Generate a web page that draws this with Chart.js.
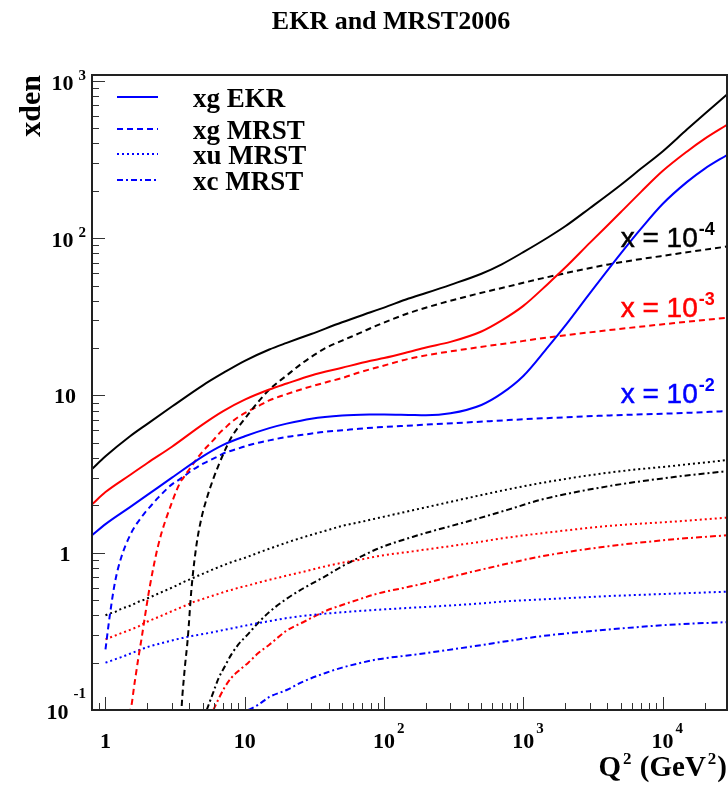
<!DOCTYPE html>
<html>
<head>
<meta charset="utf-8">
<script src="https://cdn.jsdelivr.net/npm/chart.js@4.4.1/dist/chart.umd.min.js"></script>
<style>
  html, body { margin: 0; padding: 0; background: #fff; }
  #wrap { width: 728px; height: 789px; position: relative; }
</style>
</head>
<body>
<div id="wrap"><canvas id="chart"></canvas></div>
<script>
const ekrQ2 = [0.8, 1, 1.5, 2, 3, 5, 7, 10, 15, 20, 30, 50, 80, 100, 150, 200, 300, 500, 700,
  1000, 1500, 2000, 3000, 5000, 7000, 10000, 15000, 20000, 29000]
const xgEkr4 = [3.4, 4.1, 5.5, 6.6, 8.5, 11.6, 13.9, 16.6, 19.6, 21.6, 24.6, 29.2, 33.8, 36.2, 41.3, 44.8, 50.5, 59.4, 68.2,
  81.5, 101, 119, 155, 218, 277, 356, 492, 615, 820]
const xgEkr3 = [2.03, 2.43, 3.12, 3.72, 4.72, 6.55, 7.95, 9.4, 10.9, 11.9, 13.4, 15.0, 16.6, 17.3, 18.9, 20.2, 21.9, 25.5, 30.0,
  37.1, 51.2, 65.0, 93.3, 146, 197, 267, 356, 428, 526]
const xgEkr2 = [1.29, 1.52, 1.95, 2.33, 3.0, 4.1, 4.85, 5.5, 6.2, 6.62, 7.12, 7.45, 7.56, 7.57, 7.52, 7.48, 7.7, 8.7, 10.3,
  13.3, 20.3, 27.8, 44.6, 79.8, 115, 165, 228, 276, 338]

// Q^2 points for the MRST2006 curves (values at the frame floor are drawn at 0.1)
const mrstQ2 = [1, 1.07, 1.17, 1.3, 1.5, 1.62, 1.72, 1.82, 1.92, 2.08, 2.4, 3, 3.5, 3.56, 3.72, 3.89, 4.15, 4.5, 4.9, 5.33,
  5.95, 6.5, 7.2, 8, 9, 10.6, 12.5, 15, 20, 26, 38, 50, 66, 90, 160, 450, 780, 1360, 4100, 12400, 29000]
const xgMrst4 = [0.1, 0.1, 0.1, 0.1, 0.1, 0.1, 0.1, 0.1, 0.1, 0.1, 0.1, 0.1, 0.1, 0.122, 0.19, 0.28, 0.6, 1.12, 1.68, 2.21,
  2.96, 3.62, 4.47, 5.4, 6.3, 7.6, 9.1, 10.9, 13.4, 16.1, 20.0, 22.3, 24.8, 28.0, 34.0, 43.9, 49.3, 55.5, 68.1, 79.4, 88.5]
const xgMrst3 = [0.1, 0.1, 0.1, 0.1, 0.1, 0.15, 0.213, 0.289, 0.394, 0.61, 1.13, 2.09, 2.88, 2.93, 3.1, 3.28, 3.55, 3.93, 4.32, 4.7,
  5.2, 5.7, 6.2, 6.75, 7.3, 7.95, 8.55, 9.3, 10.2, 11.0, 12.1, 12.9, 14.0, 15.1, 17.3, 20.1, 21.5, 23.1, 26.0, 28.9, 31.2]
const xgMrst2 = [0.243, 0.39, 0.65, 0.94, 1.29, 1.46, 1.58, 1.69, 1.80, 1.95, 2.25, 2.72, 2.98, 3.02, 3.1, 3.19, 3.33, 3.48, 3.65, 3.78,
  3.97, 4.12, 4.32, 4.45, 4.6, 4.82, 5.01, 5.18, 5.45, 5.62, 5.88, 6.0, 6.14, 6.27, 6.45, 6.78, 6.97, 7.15, 7.46, 7.7, 7.95]
const xuMrst4 = [0.40, 0.41, 0.42, 0.44, 0.46, 0.475, 0.487, 0.497, 0.505, 0.52, 0.55, 0.6, 0.64, 0.645, 0.657, 0.668, 0.684, 0.707, 0.73, 0.753,
  0.785, 0.81, 0.84, 0.87, 0.9, 0.945, 1.0, 1.06, 1.16, 1.25, 1.38, 1.48, 1.56, 1.66, 1.86, 2.28, 2.53, 2.78, 3.23, 3.58, 3.88]
const xuMrst3 = [0.281, 0.288, 0.297, 0.308, 0.323, 0.332, 0.339, 0.35, 0.359, 0.37, 0.39, 0.425, 0.45, 0.453, 0.46, 0.468, 0.481, 0.493, 0.505, 0.518,
  0.535, 0.548, 0.565, 0.58, 0.598, 0.62, 0.645, 0.672, 0.715, 0.755, 0.82, 0.863, 0.9, 0.95, 1.02, 1.16, 1.25, 1.33, 1.48, 1.58, 1.67]
const xuMrst2 = [0.2, 0.204, 0.21, 0.217, 0.228, 0.234, 0.239, 0.244, 0.248, 0.254, 0.263, 0.277, 0.286, 0.287, 0.29, 0.292, 0.295, 0.299, 0.303, 0.307,
  0.313, 0.318, 0.324, 0.33, 0.337, 0.347, 0.357, 0.367, 0.384, 0.396, 0.41, 0.418, 0.426, 0.434, 0.447, 0.473, 0.492, 0.505, 0.53, 0.55, 0.565]
const xcMrst4 = [null, null, null, null, null, null, null, null, null, null, null, null, null, null, null, null, null, null, null, 0.1,
  0.13, 0.16, 0.19, 0.225, 0.261, 0.305, 0.359, 0.42, 0.51, 0.59, 0.71, 0.82, 0.93, 1.06, 1.26, 1.63, 1.88, 2.18, 2.65, 3.04, 3.30]
const xcMrst3 = [null, null, null, null, null, null, null, null, null, null, null, null, null, null, null, null, null, null, null, null,
  0.1, 0.118, 0.14, 0.16, 0.177, 0.2, 0.23, 0.26, 0.32, 0.36, 0.426, 0.465, 0.505, 0.55, 0.614, 0.764, 0.855, 0.95, 1.10, 1.22, 1.29]
const xcMrst2 = [null, null, null, null, null, null, null, null, null, null, null, null, null, null, null, null, null, null, null, null,
  null, null, null, null, null, 0.1, 0.108, 0.121, 0.134, 0.151, 0.172, 0.186, 0.198, 0.21, 0.224, 0.255, 0.275, 0.295, 0.325, 0.35, 0.362]

// axis labels
const xTickValues = [1, 10, 100, 1000, 10000]
const xTickBase = ['1', '10', '10', '10', '10']
const xTickExp = ['', '', '2', '3', '4']
const yTickValues = [0.1, 1, 10, 100, 1000]
const yTickBase = ['10', '1', '10', '10', '10']
const yTickExp = ['-1', '', '', '2', '3']

const legendLabels = ['xg EKR', 'xg MRST', 'xu MRST', 'xc MRST']
const xValueExp = ['-4', '-3', '-2']
const colors = ['#000000', '#ff0000', '#0000ff']

const SERIF = '"Liberation Serif", "Times New Roman", serif'
const SANS = '"Liberation Sans", Arial, sans-serif'
const dashes = [[], [6, 4], [2, 3], [6, 3, 2, 3]]

const pts = (qs, vs) => qs.map((q, i) => ({x: q, y: vs[i]}))
const line = (data, color, dash) => ({
  data,
  borderColor: color,
  borderWidth: 2,
  borderDash: dash,
  pointRadius: 0,
  fill: false,
  cubicInterpolationMode: 'monotone'
})

const datasets = [
  line(pts(ekrQ2, xgEkr4), colors[0], dashes[0]),
  line(pts(ekrQ2, xgEkr3), colors[1], dashes[0]),
  line(pts(ekrQ2, xgEkr2), colors[2], dashes[0]),
  line(pts(mrstQ2, xgMrst4), colors[0], dashes[1]),
  line(pts(mrstQ2, xgMrst3), colors[1], dashes[1]),
  line(pts(mrstQ2, xgMrst2), colors[2], dashes[1]),
  line(pts(mrstQ2, xuMrst4), colors[0], dashes[2]),
  line(pts(mrstQ2, xuMrst3), colors[1], dashes[2]),
  line(pts(mrstQ2, xuMrst2), colors[2], dashes[2]),
  line(pts(mrstQ2, xcMrst4), colors[0], dashes[3]),
  line(pts(mrstQ2, xcMrst3), colors[1], dashes[3]),
  line(pts(mrstQ2, xcMrst2), colors[2], dashes[3])
]

// ROOT-like frame, inward ticks, labels, legend and titles
const rootStyle = {
  id: 'rootStyle',
  afterDraw(chart) {
    const {ctx, chartArea: a, scales: {x, y}} = chart
    ctx.save()

    // ticks
    ctx.strokeStyle = '#333'
    ctx.lineWidth = 1
    for (let e = -1; e <= 4; e++) {
      for (let m = 1; m <= 9; m++) {
        const v = m * Math.pow(10, e)
        const len = m === 1 ? 13 : 7
        if (v > x.min && v < x.max) {
          const px = Math.round(x.getPixelForValue(v)) + 0.5
          ctx.beginPath(); ctx.moveTo(px, a.bottom); ctx.lineTo(px, a.bottom - len); ctx.stroke()
        }
        if (v >= y.min && v < y.max) {
          const py = Math.round(y.getPixelForValue(v)) + 0.5
          ctx.beginPath(); ctx.moveTo(a.left, py); ctx.lineTo(a.left + len, py); ctx.stroke()
        }
      }
    }

    // frame
    ctx.strokeStyle = '#222'
    ctx.lineWidth = 2
    ctx.strokeRect(a.left, a.top, a.right - a.left, a.bottom - a.top)

    ctx.fillStyle = '#000'
    ctx.textBaseline = 'alphabetic'

    // x tick labels
    xTickValues.forEach((v, i) => {
      const px = x.getPixelForValue(v)
      ctx.font = `bold 22px ${SERIF}`
      ctx.textAlign = 'center'
      ctx.fillText(xTickBase[i], px, a.bottom + 38)
      if (xTickExp[i]) {
        const w = ctx.measureText(xTickBase[i]).width
        ctx.font = `bold 15px ${SERIF}`
        ctx.textAlign = 'left'
        ctx.fillText(xTickExp[i], px + w / 2 + 2, a.bottom + 23)
      }
    })

    // y tick labels
    yTickValues.forEach((v, i) => {
      const py = y.getPixelForValue(v)
      const right = a.left - 6
      if (yTickExp[i]) {
        ctx.font = `bold 15px ${SERIF}`
        const ew = ctx.measureText(yTickExp[i]).width
        ctx.textAlign = 'left'
        const lift = yTickExp[i].startsWith('-') ? 12 : 1
        ctx.fillText(yTickExp[i], right - ew, py - lift)
        ctx.font = `bold 22px ${SERIF}`
        ctx.textAlign = 'right'
        ctx.fillText(yTickBase[i], right - ew - 5, py + 9)
      } else {
        ctx.font = `bold 22px ${SERIF}`
        ctx.textAlign = 'center'
        ctx.fillText(yTickBase[i], a.left - 27, py + 8)
      }
    })

    // title
    ctx.font = `bold 26px ${SERIF}`
    ctx.textAlign = 'center'
    ctx.fillText('EKR and MRST2006', 391, 29)

    // y title
    ctx.save()
    ctx.translate(40, a.top)
    ctx.rotate(-Math.PI / 2)
    ctx.font = `bold 30px ${SERIF}`
    ctx.textAlign = 'right'
    ctx.fillText('xden', 0, 0)
    ctx.restore()

    // x title: Q^2 (GeV^2), right aligned to the frame
    const parts = [['Q', 29, 0], ['2', 17, 12], [' (GeV', 29, 0], ['2', 17, 12], [')', 29, 0]]
    let total = 0
    parts.forEach(p => { ctx.font = `bold ${p[1]}px ${SERIF}`; total += ctx.measureText(p[0]).width + (p[2] ? 3 : 0) })
    let cx = a.right - total
    ctx.textAlign = 'left'
    parts.forEach(p => {
      ctx.font = `bold ${p[1]}px ${SERIF}`
      if (p[2]) cx += 2
      ctx.fillText(p[0], cx, 776 - p[2])
      cx += ctx.measureText(p[0]).width + (p[2] ? 1 : 0)
    })

    // legend
    const legY = [97, 129, 154, 180]
    legendLabels.forEach((label, i) => {
      ctx.strokeStyle = colors[2]
      ctx.lineWidth = 2
      ctx.setLineDash(dashes[i])
      ctx.beginPath(); ctx.moveTo(117, legY[i]); ctx.lineTo(158, legY[i]); ctx.stroke()
      ctx.setLineDash([])
      ctx.font = `bold 27px ${SERIF}`
      ctx.textAlign = 'left'
      ctx.fillStyle = '#000'
      ctx.fillText(label, 193, legY[i] + 10)
    })

    // x = 10^-n labels
    const labY = [247, 316.5, 403]
    const lx = x.getPixelForValue(5000)
    xValueExp.forEach((e, i) => {
      ctx.fillStyle = colors[i]
      ctx.strokeStyle = colors[i]
      ctx.lineWidth = 0.5
      ctx.font = `28px ${SANS}`
      ctx.textAlign = 'left'
      ctx.fillText('x = 10', lx, labY[i])
      ctx.strokeText('x = 10', lx, labY[i])
      const w = ctx.measureText('x = 10').width
      ctx.font = `bold 18px ${SANS}`
      ctx.fillText(e, lx + w + 1, labY[i] - 12)
    })

    ctx.restore()
  }
}

new Chart(document.getElementById('chart'), {
  type: 'line',
  data: {datasets},
  options: {
    responsive: true,
    maintainAspectRatio: false,
    animation: false,
    events: [],
    layout: {padding: {left: 92, top: 75, right: 1, bottom: 79}},
    plugins: {legend: {display: false}, tooltip: {enabled: false}, title: {display: false}},
    scales: {
      x: {type: 'logarithmic', min: 0.8, max: 29000, display: false},
      y: {type: 'logarithmic', min: 0.1, max: 1090, display: false}
    }
  },
  plugins: [rootStyle]
})
</script>
</body>
</html>
